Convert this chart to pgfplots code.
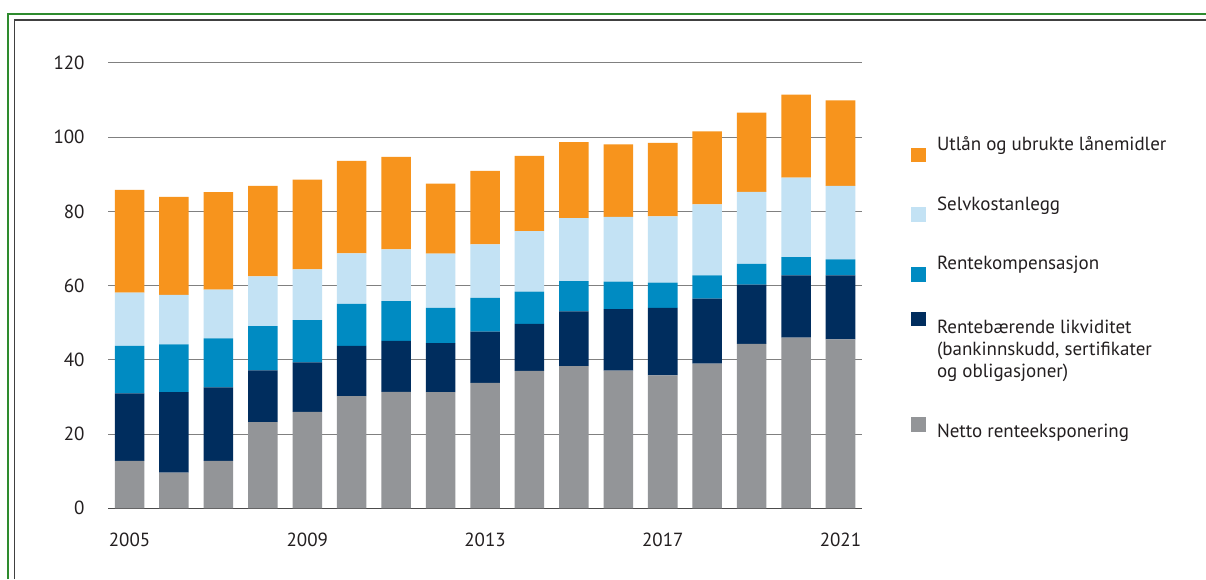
\documentclass[border=0pt]{standalone}
\usepackage{fontspec}
\setmainfont{PT Sans}
\usepackage{pgfplots}
\pgfplotsset{compat=1.18}
\usepackage{pgfplotstable}

\definecolor{cOrange}{HTML}{F7941D}
\definecolor{cLight}{HTML}{C3E2F4}
\definecolor{cBlue}{HTML}{008BC2}
\definecolor{cNavy}{HTML}{002D5E}
\definecolor{cGray}{HTML}{939598}
\definecolor{cFrame}{HTML}{2E8B2E}
\definecolor{cText}{HTML}{231F20}

% strut: height #1, depth #2 (sets the legend row spacing)
\newcommand\rs[2]{\rule[-#2]{0pt}{\dimexpr#1+#2\relax}}

% year, then the five stacked parts from bottom to top
\pgfplotstableread{
year netto likv komp selvkost utlan
2005 12.8 18.2 12.8 14.3 27.7
2006  9.6 21.7 12.9 13.3 26.4
2007 12.8 19.8 13.2 13.1 26.3
2008 23.2 14.0 11.9 13.4 24.4
2009 26.0 13.3 11.4 13.7 24.2
2010 30.2 13.6 11.3 13.6 24.9
2011 31.4 13.7 10.7 14.0 24.9
2012 31.3 13.2  9.5 14.6 18.9
2013 33.8 13.8  9.1 14.4 19.8
2014 37.0 12.7  8.7 16.3 20.3
2015 38.3 14.8  8.1 17.0 20.5
2016 37.1 16.6  7.4 17.4 19.6
2017 35.8 18.2  6.8 17.9 19.8
2018 39.0 17.5  6.3 19.1 19.7
2019 44.3 16.0  5.6 19.4 21.3
2020 46.0 16.8  4.9 21.4 22.4
2021 45.5 17.3  4.3 19.8 23.0
}\datatable

\begin{document}
\fontsize{9.5}{12}\selectfont
\begin{tikzpicture}[x=0.5pt,y=0.5pt]
\useasboundingbox (0,0) rectangle (1206,579);
\fill[white] (0,0) rectangle (1206,579);
% screenshot frame
\draw[cFrame, line width=1pt] (8,0) -- (8,565.3) -- (1206,565.3);
\draw[black!75, line width=0.8pt] (14.3,0) -- (14.3,559) -- (1206,559);
\begin{axis}[
    at={(54pt,35.35pt)}, anchor=south west,
    scale only axis,
    width=377pt, height=222.65pt,
    ybar stacked,
    bar width=0.664,
    xmin=2004.516, xmax=2021.484,
    ymin=0, ymax=120,
    xtick={2005,2009,2013,2017,2021},
    ytick={20,40,...,120},
    extra y ticks={0},
    extra y tick style={grid=major, grid style={black!70, line width=0.8pt}},
    ymajorgrids=true,
    grid style={black!50, line width=0.5pt},
    axis line style={draw=none},
    major tick length=0pt,
    /pgf/number format/assume math mode=true,
    /pgf/number format/1000 sep={},
    tick label style={font=\fontsize{9.5}{12}\selectfont, text=cText},
    yticklabel style={inner sep=0pt, xshift=-11.5pt},
    xticklabel style={inner sep=0pt, yshift=-12.3pt},
    legend cell align=left,
    legend image code/.code={\fill[#1] (0pt,0pt) rectangle (7.3pt,7.3pt);},
    legend style={draw=none, fill=none, inner sep=0pt,
        at={(1.065,0.845)}, anchor=north west,
        row sep=0pt, column sep=5.5pt,
        nodes={inner sep=0pt, text depth=, text=cText},
        font=\fontsize{9.5}{12}\selectfont},
]
% legend, in display order
\addlegendimage{fill=cOrange, draw=none}
\addlegendentry{Utlån og ubrukte lånemidler\rs{9pt}{20.9pt}}
\addlegendimage{fill=cLight, draw=none}
\addlegendentry{Selvkostanlegg\rs{9pt}{20.7pt}}
\addlegendimage{fill=cBlue, draw=none}
\addlegendentry{Rentekompensasjon\rs{9pt}{21pt}}
\addlegendimage{fill=cNavy, draw=none}
\addlegendentry{Rentebærende likviditet\rs{9pt}{2.2pt}}
\addlegendimage{empty legend}
\addlegendentry{(bankinnskudd, sertifikater\rs{9pt}{2.2pt}}
\addlegendimage{empty legend}
\addlegendentry{og obligasjoner)\rs{9pt}{19.6pt}}
\addlegendimage{fill=cGray, draw=none}
\addlegendentry{Netto renteeksponering\rs{9pt}{3pt}}

\addplot[fill=cGray, draw=none] table[x=year, y=netto] {\datatable};
\addplot[fill=cNavy, draw=none] table[x=year, y=likv] {\datatable};
\addplot[fill=cBlue, draw=none] table[x=year, y=komp] {\datatable};
\addplot[fill=cLight, draw=none] table[x=year, y=selvkost] {\datatable};
\addplot[fill=cOrange, draw=none] table[x=year, y=utlan] {\datatable};
\end{axis}
\end{tikzpicture}
\end{document}
